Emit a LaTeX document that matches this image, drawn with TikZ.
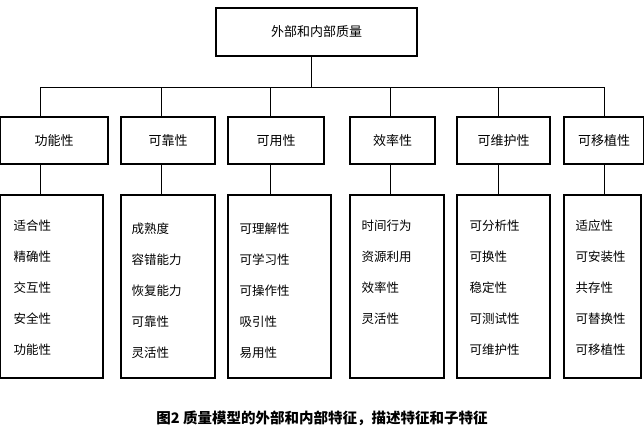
\documentclass[tikz,border=0pt]{standalone}
\usepackage{fontspec}
\setmainfont{Noto Sans CJK SC}
\usetikzlibrary{positioning}
\tikzset{
  box/.style={draw, line width=1.2pt},
  item/.style={anchor=west, font=\fontsize{12.5}{13}\selectfont},
  head/.style={font=\fontsize{13}{14}\selectfont},
}
\begin{document}
\begin{tikzpicture}[x=1pt, y=-1pt, line width=0.8pt]
\useasboundingbox (0,0) rectangle (644,431);
\node (top) at (316.5,32) [box, minimum width=201pt, minimum height=48pt, head] {外部和内部质量};
\coordinate (bus) at (311,87);
\draw (top.south -| bus) -- (bus);
\draw (40,87) -- (604,87);
% middle boxes: centre x, width, drop x, label
\foreach \n/\cx/\w/\dx/\lab in {1/54/108/40/功能性, 2/168/94/161/可靠性, 3/276/96/270/可用性,
    4/392.5/85/390/效率性, 5/503.5/93/498/可维护性, 6/604/80/604/可移植性} {
  \node (m\n) at (\cx,140.5) [box, minimum width=\w pt, minimum height=47pt, head] {\lab};
  \coordinate (d\n) at (\dx,87);
  \draw (d\n) -- (d\n |- m\n.north);
}
% lower boxes
\foreach \n/\x/\xr in {1/0/103, 2/121/215, 3/228/331, 4/350/444, 5/457/550, 6/564/641} {
  \draw[box] (\x,195) rectangle (\xr,378);
  \coordinate (b\n) at (d\n |- 0,195);
  \draw (d\n |- m\n.south) -- (b\n);
}
\foreach \i/\t in {0/适合性, 1/精确性, 2/交互性, 3/安全性, 4/功能性}
  \node[item] (a\i) at (10,{226+31*\i}) {\t};
\foreach \i/\t in {0/成熟度, 1/容错能力, 2/恢复能力, 3/可靠性, 4/灵活性}
  \node[item] (c\i) at (128,{229+31*\i}) {\t};
\foreach \i/\t in {0/可理解性, 1/可学习性, 2/可操作性, 3/吸引性, 4/易用性}
  \node[item] (e\i) at (236,{229+31*\i}) {\t};
\foreach \i/\t in {0/时间行为, 1/资源利用, 2/效率性, 3/灵活性}
  \node[item] (f\i) at (358,{226+31*\i}) {\t};
\foreach \i/\t in {0/可分析性, 1/可换性, 2/稳定性, 3/可测试性, 4/可维护性}
  \node[item] (g\i) at (466,{226+31*\i}) {\t};
\foreach \i/\t in {0/适应性, 1/可安装性, 2/共存性, 3/可替换性, 4/可移植性}
  \node[item] (h\i) at (572,{226+31*\i}) {\t};
\node (cap) at (322,418) [font=\bfseries\fontsize{14.5}{15}\selectfont] {图2 质量模型的外部和内部特征，描述特征和子特征};
\end{tikzpicture}
\end{document}
